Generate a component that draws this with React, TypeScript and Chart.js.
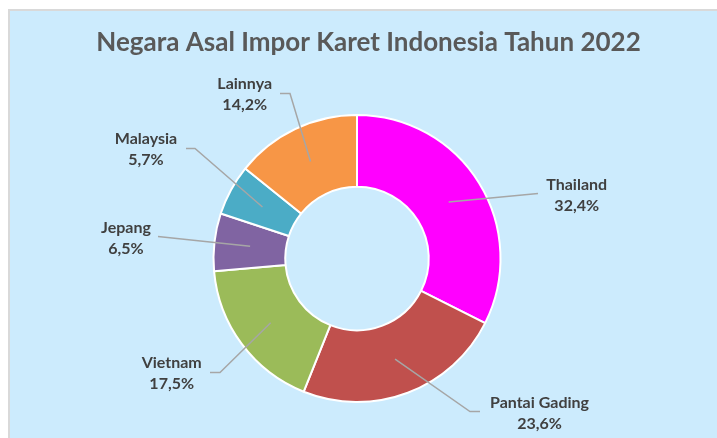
import React, { useEffect, useRef } from "react";
import { Chart, registerables } from "chart.js";

Chart.register(...registerables);

const categories = ["Thailand", "Pantai Gading", "Vietnam", "Jepang", "Malaysia", "Lainnya"];
const shares = [32.4, 23.6, 17.5, 6.5, 5.7, 14.2];
const valueLabels = ["32,4%", "23,6%", "17,5%", "6,5%", "5,7%", "14,2%"];
const sliceColors = ["#FF00FF", "#C0504D", "#9BBB59", "#8064A2", "#4BACC6", "#F79646"];
const titleText = "Negara Asal Impor Karet Indonesia Tahun 2022";

// label placement relative to the doughnut centre (text centre x, first baseline y) and leader-line bends
const labelLayout = [
  { tx: 219.7, ty: -69, pts: [[181, -65]] },
  { tx: 182.5, ty: 149, pts: [[113, 153], [123, 153]] },
  { tx: -185.3, ty: 109, pts: [[-137, 114], [-147, 114]] },
  { tx: -231, ty: -26, pts: [[-199, -22]] },
  { tx: -211, ty: -115, pts: [[-162, -110], [-171, -110]] },
  { tx: -112.3, ty: -170, pts: [[-67, -165], [-77, -165]] },
];

const CANVAS_W = 707;
const CANVAS_H = 427;

const labelPlugin = {
  id: "outerLabels",
  afterDraw(chart: any) {
    const ctx = chart.ctx;
    const meta = chart.getDatasetMeta(0);
    ctx.save();
    // title
    ctx.font = "bold 26px Lato";
    ctx.fillStyle = "#595959";
    ctx.textAlign = "center";
    ctx.textBaseline = "alphabetic";
    ctx.fillText(titleText, 358.5, 39.5);

    meta.data.forEach((arc: any, i: number) => {
      const cx = arc.x;
      const cy = arc.y;
      const mid = (arc.startAngle + arc.endAngle) / 2;
      const r = (arc.innerRadius + arc.outerRadius) / 2;
      const sx = cx + Math.cos(mid) * r;
      const sy = cy + Math.sin(mid) * r;
      const lay = labelLayout[i];
      ctx.beginPath();
      ctx.strokeStyle = "#A6A6A6";
      ctx.lineWidth = 1.5;
      ctx.moveTo(sx, sy);
      lay.pts.forEach((p) => ctx.lineTo(cx + p[0], cy + p[1]));
      ctx.stroke();

      ctx.font = "bold 16px Lato";
      ctx.fillStyle = "#404040";
      ctx.textAlign = "center";
      ctx.fillText(categories[i], cx + lay.tx, cy + lay.ty);
      ctx.fillText(valueLabels[i], cx + lay.tx, cy + lay.ty + 21);
    });
    ctx.restore();
  },
};

export default function App() {
  const ref = useRef<HTMLCanvasElement | null>(null);
  useEffect(() => {
    if (!ref.current) return;
    const chart = new Chart(ref.current, {
      type: "doughnut",
      data: {
        labels: categories,
        datasets: [
          {
            data: shares,
            backgroundColor: sliceColors,
            borderColor: "#FFFFFF",
            borderWidth: 2,
          },
        ],
      },
      options: {
        responsive: false,
        animation: false,
        cutout: "50%",
        layout: { padding: { left: 150, right: 163, top: 103, bottom: 35 } },
        plugins: {
          legend: { display: false },
          title: { display: false },
          tooltip: { enabled: false },
        },
      },
      plugins: [labelPlugin],
    });
    return () => chart.destroy();
  }, []);

  return (
    <div
      style={{
        position: "fixed",
        left: 8,
        top: 9,
        width: CANVAS_W,
        height: CANVAS_H,
        borderLeft: "2px solid #D9D9D9",
        borderTop: "2px solid #D9D9D9",
        background: "#CCEBFD",
      }}
    >
      <canvas ref={ref} width={CANVAS_W} height={CANVAS_H} style={{ display: "block" }} />
    </div>
  );
}
